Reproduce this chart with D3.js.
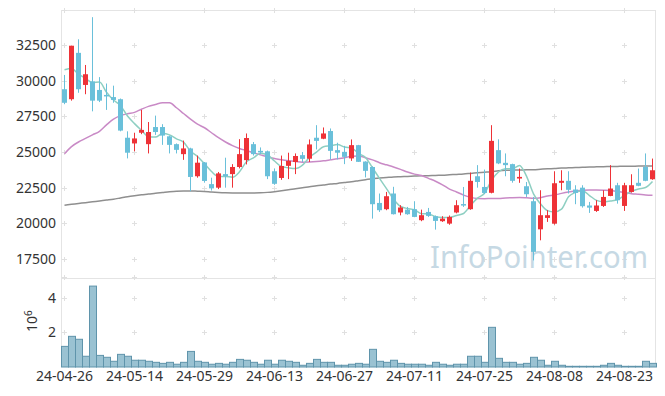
<html>
<script src="https://d3js.org/d3.v7.min.js"></script>
<style>
body { margin: 0; background-color: #ffffff; }
text { font-family: 'Noto Sans', sans-serif; }
</style>
<body>
<script>

var dates = ["24-04-26","24-04-29","24-04-30","24-05-02","24-05-03","24-05-07","24-05-08","24-05-09","24-05-10","24-05-13",
  "24-05-14","24-05-16","24-05-17","24-05-20","24-05-21","24-05-22","24-05-23","24-05-24","24-05-27","24-05-28",
  "24-05-29","24-05-30","24-05-31","24-06-03","24-06-04","24-06-05","24-06-07","24-06-10","24-06-11","24-06-12",
  "24-06-13","24-06-14","24-06-17","24-06-18","24-06-19","24-06-20","24-06-21","24-06-24","24-06-25","24-06-26",
  "24-06-27","24-06-28","24-07-01","24-07-02","24-07-03","24-07-04","24-07-05","24-07-08","24-07-09","24-07-10",
  "24-07-11","24-07-12","24-07-15","24-07-16","24-07-17","24-07-18","24-07-19","24-07-22","24-07-23","24-07-24",
  "24-07-25","24-07-26","24-07-29","24-07-30","24-07-31","24-08-01","24-08-02","24-08-05","24-08-06","24-08-07",
  "24-08-08","24-08-09","24-08-12","24-08-13","24-08-14","24-08-16","24-08-19","24-08-20","24-08-21","24-08-22",
  "24-08-23","24-08-26","24-08-27","24-08-28","24-08-29"];

var opens = [29400,28700,31950,29700,29950,29350,29000,28850,28700,26000,
  25600,26350,25550,26750,26750,26100,25550,24850,25250,23300,
  24270,22750,22500,23450,23450,23950,24430,25550,25080,25050,
  23650,23180,24030,24300,24780,24530,26000,25930,26470,25130,
  25010,24550,25480,24330,23950,21430,20990,22090,20760,20960,
  20990,20220,20800,20500,20150,19980,20760,21350,20990,23300,
  22550,22140,25130,24240,24150,23140,22600,21550,19580,20380,
  19980,22840,22980,22370,22500,21250,20870,21220,21920,22670,
  21220,22200,22840,23960,23090];

var highs = [30400,32450,32900,31100,34450,30250,29800,29650,28750,26450,
  26350,27950,27100,27550,26950,26150,25600,25800,25300,24750,
  24300,23200,23600,24600,24150,25900,26300,25700,25320,25100,
  23850,24750,24950,24900,25000,25880,26880,26720,26650,25650,
  25430,25880,25500,24350,24000,22090,22200,22560,21270,21150,
  21550,20960,21080,20550,20500,20550,21620,22550,23560,24080,
  23770,26880,25890,24900,24180,23840,22900,21850,22320,20920,
  23650,23720,23650,22670,22670,21500,21620,22320,24080,22840,
  22840,23440,23840,24900,24540];

var lows = [28350,28600,29150,29050,27850,28500,27950,28450,26450,24550,
  25050,26250,24900,26200,25500,24900,24900,24450,22250,23200,
  22850,22300,22400,22500,22500,23850,24130,24750,24850,23100,
  22700,23050,23100,23450,24300,24300,25180,25900,24480,24480,
  24150,24380,24300,23220,20330,20800,20920,20620,20560,20600,
  20430,20150,20450,19560,20100,19900,20700,21150,20950,22500,
  22050,22100,24150,23300,22850,22840,21850,17400,18810,20100,
  19910,22320,22090,21340,21100,20730,20800,21150,21900,21380,
  20870,22150,22600,22950,23050];

var closes = [28450,32450,29400,30450,28600,28600,28900,28650,26500,24950,
  25950,26550,26400,26400,26150,25500,25150,25250,23250,24250,
  22970,22450,23500,23300,23950,24850,25980,24850,24970,23300,
  22770,24020,24380,24720,24520,25530,25780,26300,25080,24950,
  24660,25480,24310,23680,21340,20920,21900,20640,21110,20640,
  20450,20570,20520,20170,20330,20450,21270,21250,22980,22900,
  22130,25780,24200,24080,22980,23255,22040,18000,20570,20570,
  22810,22980,22350,22130,21200,21100,21250,21850,22440,21620,
  22670,22670,22630,22980,23720];

var volumes = [1190000,1770000,1600000,620000,4670000,670000,560000,330000,730000,620000,
  390000,390000,330000,270000,210000,270000,160000,270000,900000,330000,
  270000,160000,210000,160000,270000,440000,390000,270000,160000,390000,
  160000,390000,330000,270000,100000,210000,440000,270000,270000,100000,
  100000,160000,210000,160000,1020000,330000,270000,390000,210000,160000,
  160000,160000,100000,270000,160000,100000,160000,160000,620000,620000,
  270000,2290000,500000,270000,270000,160000,210000,560000,390000,100000,
  330000,100000,40000,40000,40000,40000,40000,100000,210000,100000,
  40000,40000,40000,330000,210000];

var ma5 = [30770,30850,30460,30160,29870,29900,29190,28640,28250,27520,
  26990,26520,26070,26050,26290,26200,25920,25690,25060,24680,
  24170,23630,23280,23290,23230,23610,24320,24590,24920,24790,
  24370,23980,23890,23840,24080,24630,24990,25370,25440,25530,
  25350,25290,24900,24620,23890,23150,22430,21700,21180,21040,
  20950,20680,20660,20470,20410,20410,20550,20690,21260,21770,
  22110,23010,23600,23820,23830,24060,23310,22070,21370,20890,
  20800,20990,21860,22170,22290,21950,21610,21510,21570,21650,
  21970,22250,22410,22510,22930];

var ma20 = [24880,25380,25700,25950,26200,26450,26900,27300,27550,27680,
  27780,28000,28200,28330,28450,28450,28100,27700,27300,26950,
  26700,26350,26000,25700,25450,25250,25100,24950,24800,24650,
  24550,24450,24380,24330,24290,24300,24330,24380,24450,24520,
  24600,24700,24720,24600,24450,24250,24100,23950,23780,23600,
  23450,23350,23150,22950,22700,22400,22200,21980,21820,21740,
  21730,21740,21740,21780,21800,21810,21790,21760,21800,21920,
  21980,22100,22200,22270,22320,22330,22330,22320,22300,22230,
  22150,22080,22040,21990,21970];

var ma60 = [21270,21330,21390,21450,21510,21570,21630,21690,21780,21870,
  21940,22000,22050,22110,22160,22210,22250,22270,22270,22250,
  22230,22190,22160,22140,22130,22130,22130,22130,22140,22170,
  22220,22280,22350,22430,22500,22560,22630,22690,22750,22800,
  22860,22920,22990,23060,23130,23170,23210,23250,23270,23290,
  23310,23330,23340,23360,23370,23400,23430,23460,23500,23540,
  23580,23620,23680,23720,23730,23740,23750,23760,23790,23820,
  23840,23870,23890,23910,23930,23950,23960,23970,23980,23990,
  24000,24000,24010,24010,24010];

var priceTicks = [17500, 20000, 22500, 25000, 27500, 30000, 32500];
var volTicks = [2000000, 4000000];
var dateTicks = ["24-04-26","24-05-14","24-05-29","24-06-13","24-06-27","24-07-11","24-07-25","24-08-08","24-08-23"];

var W = 665, H = 396;
var pLeft = 61, pRight = 656, pTop = 10, pMid = 278, pBottom = 367;

var svg = d3.select("body").append("svg")
    .attr("width", W)
    .attr("height", H);

var x = d3.scaleBand().domain(dates).range([pLeft, pRight]);
var cx = function(d) { return x(d) + x.bandwidth() / 2; };
var y = d3.scaleLinear().domain([17500, 32500]).range([259, 45]);
var yv = d3.scaleLinear().domain([0, 4000000]).range([pBottom, 297.7]);

var data = dates.map(function(d, i) {
  return {date: d, o: opens[i], h: highs[i], l: lows[i], c: closes[i], v: volumes[i],
          m5: ma5[i], m20: ma20[i], m60: ma60[i]};
});

svg.append("defs").append("clipPath").attr("id", "pclip")
  .append("rect").attr("x", pLeft).attr("y", pTop).attr("width", pRight - pLeft).attr("height", pMid - pTop);

// frame
var frame = svg.append("g").attr("stroke", "#e4e4e4").attr("fill", "none");
frame.append("line").attr("x1", pLeft).attr("x2", pRight).attr("y1", pTop + 0.5).attr("y2", pTop + 0.5);
frame.append("line").attr("x1", pLeft).attr("x2", pRight).attr("y1", pMid + 0.5).attr("y2", pMid + 0.5);
frame.append("line").attr("x1", pLeft + 0.5).attr("x2", pLeft + 0.5).attr("y1", pTop).attr("y2", pBottom);
frame.append("line").attr("x1", pRight - 0.5).attr("x2", pRight - 0.5).attr("y1", pTop).attr("y2", pBottom);

// plus marks on the grid
var gridY = priceTicks.map(function(t) { return y(t); }).concat([pTop, pMid - 1]).concat(volTicks.map(function(t) { return yv(t); }));
var plus = [];
dateTicks.forEach(function(d) {
  gridY.forEach(function(py) { plus.push({px: Math.round(cx(d)) - 0.5, py: Math.round(py) + 0.5}); });
});
var pg = svg.append("g").attr("stroke", "#e0e0e0").attr("stroke-width", 1);
pg.selectAll(".ph").data(plus).enter().append("line")
  .attr("x1", function(d) { return d.px - 2.5; }).attr("x2", function(d) { return d.px + 2.5; })
  .attr("y1", function(d) { return d.py; }).attr("y2", function(d) { return d.py; });
pg.selectAll(".pv").data(plus).enter().append("line")
  .attr("x1", function(d) { return d.px; }).attr("x2", function(d) { return d.px; })
  .attr("y1", function(d) { return d.py - 2.5; }).attr("y2", function(d) { return d.py + 2.5; });

// watermark
svg.append("text")
  .attr("x", 648).attr("y", 268)
  .attr("text-anchor", "end")
  .attr("font-size", 31)
  .attr("textLength", 218)
  .attr("lengthAdjust", "spacingAndGlyphs")
  .attr("fill", "#c6d9e4")
  .text("InfoPointer.com");

var plot = svg.append("g").attr("clip-path", "url(#pclip)");

// moving averages
var lineOf = function(key) {
  return d3.line().x(function(d) { return cx(d.date); }).y(function(d) { return y(d[key]); }).curve(d3.curveMonotoneX);
};
plot.append("path").datum(data).attr("d", lineOf("m60")).attr("fill", "none").attr("stroke", "#8f8f8f").attr("stroke-width", 1.5);
plot.append("path").datum(data).attr("d", lineOf("m20")).attr("fill", "none").attr("stroke", "#c98ac6").attr("stroke-width", 1.5);
plot.append("path").datum(data).attr("d", lineOf("m5")).attr("fill", "none").attr("stroke", "#8ecfc2").attr("stroke-width", 1.5);

// candles
var colorOf = function(d) { return d.c >= d.o ? "#ee3237" : "#6ac0da"; };
plot.selectAll(".wick").data(data).enter().append("line")
  .attr("x1", function(d) { return cx(d.date); })
  .attr("x2", function(d) { return cx(d.date); })
  .attr("y1", function(d) { return y(d.h); })
  .attr("y2", function(d) { return y(d.l); })
  .attr("stroke", colorOf);
plot.selectAll(".body").data(data).enter().append("rect")
  .attr("x", function(d) { return cx(d.date) - 2.5; })
  .attr("width", 5)
  .attr("y", function(d) { return y(Math.max(d.o, d.c)); })
  .attr("height", function(d) { return Math.max(1.5, Math.abs(y(d.o) - y(d.c))); })
  .attr("fill", colorOf);

// volume
svg.selectAll(".vol").data(data).enter().append("rect")
  .attr("x", function(d) { return x(d.date) + 0.5; })
  .attr("width", x.bandwidth())
  .attr("y", function(d) { return yv(d.v); })
  .attr("height", function(d) { return pBottom - yv(d.v); })
  .attr("fill", "#9ac2d2")
  .attr("stroke", "#5f94ab")
  .attr("stroke-width", 1);

// axes
var ax = svg.append("g")
  .attr("transform", "translate(0," + pBottom + ")")
  .call(d3.axisBottom(x).tickValues(dateTicks).tickSize(0).tickPadding(4));
var ay = svg.append("g")
  .attr("transform", "translate(" + pLeft + ",0)")
  .call(d3.axisLeft(y).tickValues(priceTicks).tickSize(0).tickPadding(5).tickFormat(d3.format("d")));
var av = svg.append("g")
  .attr("transform", "translate(" + pLeft + ",0)")
  .call(d3.axisLeft(yv).tickValues(volTicks).tickSize(0).tickPadding(5).tickFormat(function(d) { return d / 1000000; }));
[ax, ay, av].forEach(function(g) {
  g.select(".domain").remove();
  g.selectAll("text").attr("font-size", 14).attr("fill", "#333").attr("font-family", "'Noto Sans', sans-serif");
});

var exp = svg.append("text")
  .attr("transform", "translate(37,332) rotate(-90)")
  .attr("font-size", 14)
  .attr("fill", "#333");
exp.append("tspan").text("10");
exp.append("tspan").attr("dy", -5).attr("font-size", 10).text("6");

</script>
</body>
</html>
